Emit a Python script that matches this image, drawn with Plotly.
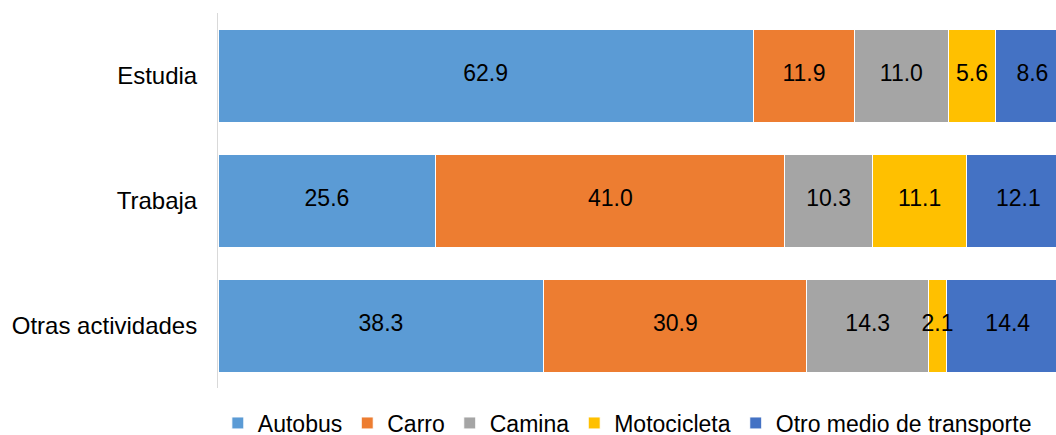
import plotly.graph_objects as go

categories = ["Estudia", "Trabaja", "Otras actividades"]
series_names = ["Autobus", "Carro", "Camina", "Motocicleta", "Otro medio de transporte"]
autobus = [62.9, 25.6, 38.3]
carro = [11.9, 41.0, 30.9]
camina = [11.0, 10.3, 14.3]
motocicleta = [5.6, 11.1, 2.1]
otro = [8.6, 12.1, 14.4]
colors = ["#5B9BD5", "#ED7D31", "#A5A5A5", "#FFC000", "#4472C4"]

values = [autobus, carro, camina, motocicleta, otro]

fig = go.Figure()
for name, vals, col in zip(series_names, values, colors):
    fig.add_trace(go.Bar(
        y=categories, x=vals, name=name, orientation="h",
        marker=dict(color=col, line=dict(color="white", width=1)),
        hovertemplate="%{y}: %{x:.1f}<extra>" + name + "</extra>",
    ))

# value labels drawn on top of all bars (so the narrow 2.1 label is not covered)
lab_x, lab_y, lab_t = [], [], []
base = [0.0] * len(categories)
for vals in values:
    for i, v in enumerate(vals):
        lab_x.append(base[i] + v / 2)
        lab_y.append(categories[i])
        lab_t.append(f"{v:.1f}")
        base[i] += v
fig.add_trace(go.Scatter(
    x=lab_x, y=lab_y, text=lab_t, mode="text", showlegend=False, hoverinfo="skip",
    textposition="middle center",
    textfont=dict(color="black", size=23, family="Liberation Sans, Arial"),
    cliponaxis=False,
))

# The reference chart is cropped on the right: the 100% end lies just past the image edge.
fig.update_layout(
    barmode="stack", bargap=0.256,
    width=1069, height=445,
    margin=dict(l=218, r=0, t=13, b=57, autoexpand=False),
    plot_bgcolor="white", paper_bgcolor="white",
    font=dict(family="Liberation Sans, Arial", size=23, color="black"),
    showlegend=True,
    legend=dict(orientation="h", x=0.481, xanchor="center", yref="container", y=0.0494, yanchor="middle",
                font=dict(size=23), traceorder="normal", itemwidth=30, bgcolor="rgba(0,0,0,0)"),
    xaxis=dict(range=[0, 100], showgrid=False, showticklabels=False, zeroline=False, showline=False),
    yaxis=dict(autorange="reversed", showline=True, linecolor="#D9D9D9", linewidth=1,
               ticks="", ticklabelstandoff=15, showgrid=False, tickfont=dict(size=24)),
)

fig.write_html(
    "out.html",
    config={"displayModeBar": False},
    post_script="document.body.style.margin='0';document.body.style.overflow='hidden';",
)
